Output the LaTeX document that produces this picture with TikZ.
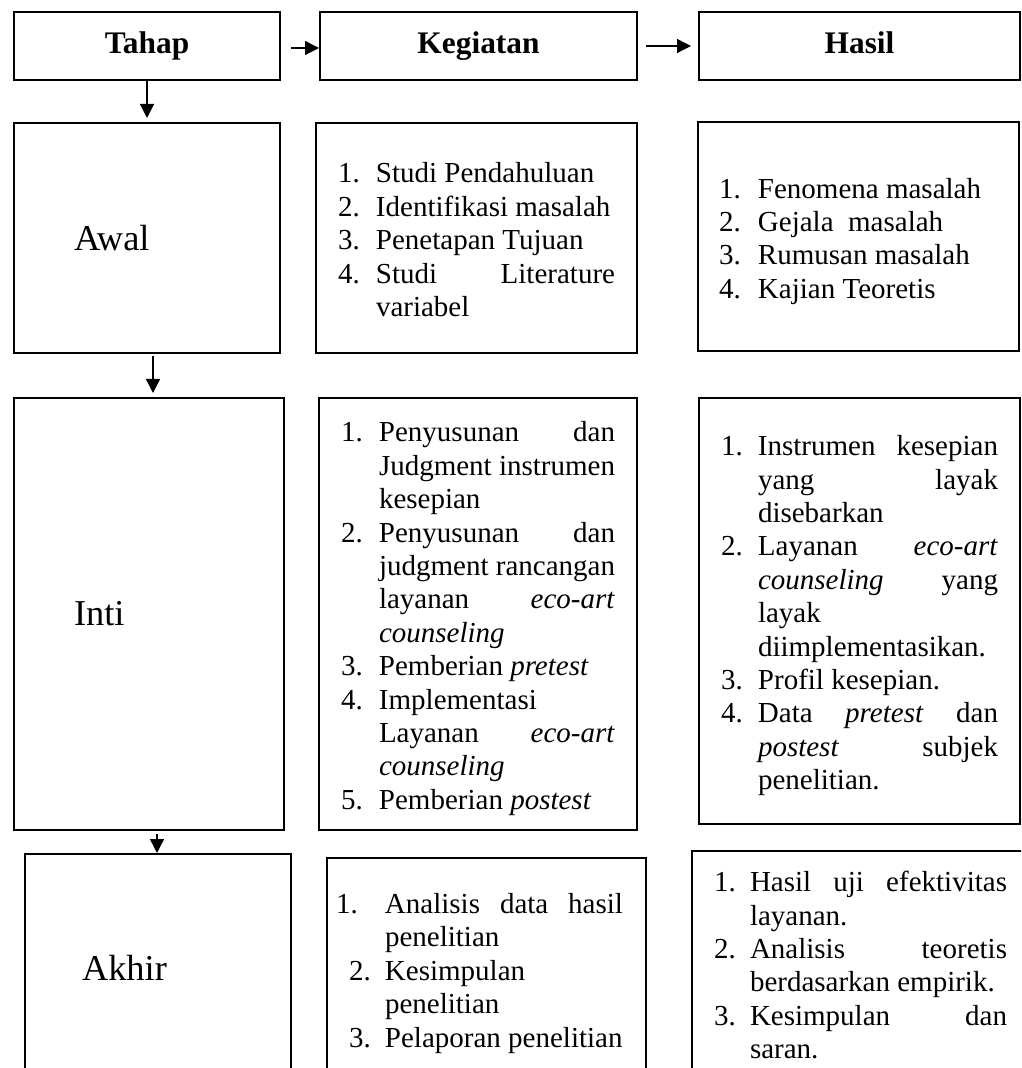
\documentclass[tikz,border=0pt]{standalone}
\usepackage{fontspec}
\setmainfont{Liberation Serif}
\usetikzlibrary{arrows.meta}
\newlength{\numw}
\newcommand{\hitem}[2]{\par\noindent\hangindent=\numw\hangafter=1\strut\makebox[\numw][l]{#1}#2\strut}
\tikzset{
  box/.style={draw, line width=1pt, inner ysep=0pt, anchor=north west},
  head/.style={box, inner xsep=0pt, font=\bfseries\fontsize{15.7}{18.8}\selectfont, execute at begin node=\strut},
  stage/.style={box, align=left, font=\fontsize{18.2}{21.8}\selectfont},
  steps/.style={box, align=justify, font=\fontsize{14.5}{16.7}\selectfont,
    execute at begin node={\setlength{\numw}{#1}\tolerance=9999\hbadness=10000}},
  steps/.default=19pt,
  flow/.style={->, line width=0.65pt}
}
\begin{document}
\begin{tikzpicture}[x=0.5pt, y=-0.5pt, >={Triangle[length=7pt,width=7pt]}]
  \useasboundingbox (0,0) rectangle (1021,1068);
  \clip (0,0) rectangle (1021,1068);
  \node[head, minimum width=133pt, minimum height=34pt] (tahap) at (13,11) {Tahap};
  \node[head, minimum width=158.5pt, minimum height=34pt] (kegiatan) at (319,11) {Kegiatan};
  \node[head, minimum width=160.5pt, minimum height=34pt] (hasil) at (698,11) {Hasil};

  \node[stage, inner xsep=30pt, text width=73pt, minimum height=115pt] (awal) at (13,122) {Awal};
  \node[steps, inner xsep=11pt, text width=138.5pt, minimum height=115pt] (kawal) at (315,122) {%
    \hitem{1.}{Studi Pendahuluan}\hitem{2.}{Identifikasi masalah}\hitem{3.}{Penetapan Tujuan}%
    \hitem{4.}{Studi Literature\linebreak variabel}\par};
  \node[steps=19.5pt, inner xsep=10.5pt, text width=139.5pt, minimum height=114.5pt] (hawal) at (697,121) {%
    \hitem{1.}{Fenomena masalah}\hitem{2.}{Gejala~~masalah}\hitem{3.}{Rumusan masalah}%
    \hitem{4.}{Kajian Teoretis}\par};

  \node[stage, inner xsep=30pt, text width=75pt, minimum height=216pt] (inti) at (13,397) {Inti};
  \node[steps, inner xsep=11pt, text width=137pt, minimum height=216pt] (kinti) at (318,397) {%
    \hitem{1.}{Penyusunan dan\linebreak Judgment instrumen\linebreak kesepian}%
    \hitem{2.}{Penyusunan dan\linebreak judgment rancangan\linebreak layanan \emph{eco-art}\linebreak \emph{counseling}}%
    \hitem{3.}{Pemberian \emph{pretest}}%
    \hitem{4.}{Implementasi\linebreak Layanan \emph{eco-art}\linebreak \emph{counseling}}%
    \hitem{5.}{Pemberian \emph{postest}}\par};
  \node[steps=18.5pt, inner xsep=11pt, text width=138.5pt, minimum height=213pt] (hinti) at (698,397) {%
    \hitem{1.}{Instrumen kesepian\linebreak yang layak\linebreak disebarkan}%
    \hitem{2.}{Layanan \emph{eco-art}\linebreak \emph{counseling} yang\linebreak layak\linebreak diimplementasikan.}%
    \hitem{3.}{Profil kesepian.}%
    \hitem{4.}{Data \emph{pretest} dan\linebreak \emph{postest} subjek\linebreak penelitian.}\par};

  \node[stage, inner xsep=28.5pt, text width=76pt, minimum height=114pt] (akhir) at (24,853) {Akhir};
  \node[steps=24.5pt, inner xsep=4.5pt, text width=150.5pt, minimum height=110.5pt] (kakhir) at (326,857) {%
    \rightskip=7pt
    \hitem{1.}{Analisis data hasil\linebreak penelitian}%
    \hitem{\hspace{6.5pt}2.}{Kesimpulan\linebreak penelitian}%
    \hitem{\hspace{6.5pt}3.}{Pelaporan penelitian}\par};
  \node[steps=18pt, inner xsep=11pt, text width=146.5pt, minimum height=112.5pt] (hakhir) at (691,850) {%
    \hitem{1.}{Hasil uji efektivitas\linebreak layanan.}%
    \hitem{2.}{Analisis teoretis\linebreak berdasarkan empirik.}%
    \hitem{3.}{Kesimpulan dan\linebreak saran.}\par};

  \path[flow] ([xshift=5pt,yshift=-1pt]tahap.east) edge ([yshift=-1pt]kegiatan.west);
  \path[flow] ([xshift=4pt]kegiatan.east) edge ([xshift=-3.5pt]hasil.west);
  \path[flow] (tahap.south) edge[shorten >=2pt] (awal.north);
  \path[flow] ([xshift=3pt]awal.south) edge[shorten <=1pt, shorten >=2pt] ([xshift=3pt]awal.south |- inti.north);
  \path[flow] ([xshift=4pt]inti.south) edge[shorten <=1.5pt] ([xshift=4pt]inti.south |- akhir.north);
\end{tikzpicture}
\end{document}
